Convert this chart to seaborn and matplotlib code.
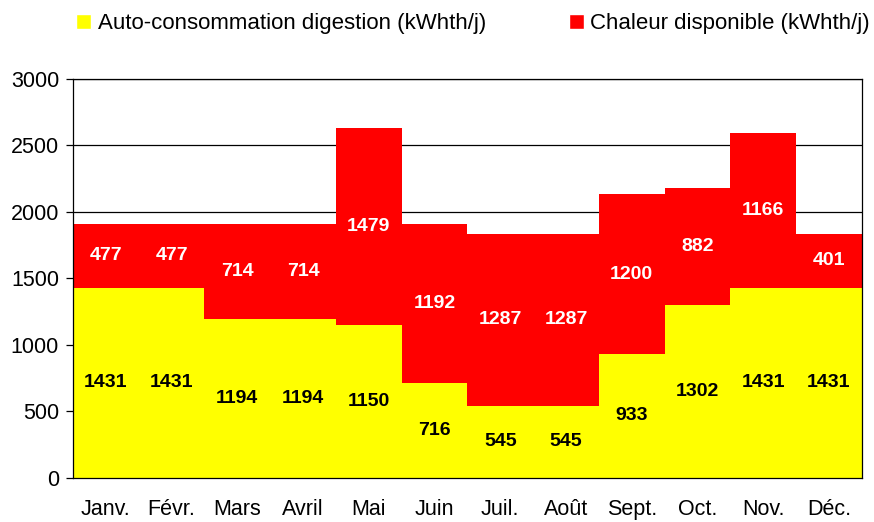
import numpy as np
import pandas as pd
import matplotlib
matplotlib.use('Agg')
import matplotlib.pyplot as plt
import seaborn as sns
from matplotlib.patches import Patch

months = ['Janv.', 'Févr.', 'Mars', 'Avril', 'Mai', 'Juin', 'Juil.', 'Août', 'Sept.', 'Oct.', 'Nov.', 'Déc.']
auto_conso = [1431, 1431, 1194, 1194, 1150, 716, 545, 545, 933, 1302, 1431, 1431]
chaleur = [477, 477, 714, 714, 1479, 1192, 1287, 1287, 1200, 882, 1166, 401]
yticks = [0, 500, 1000, 1500, 2000, 2500, 3000]

sns.set_theme(style='white')
plt.rcParams['font.family'] = ['Liberation Sans', 'DejaVu Sans']
plt.rcParams['text.color'] = 'black'
plt.rcParams['xtick.color'] = 'black'
plt.rcParams['ytick.color'] = 'black'

df = pd.DataFrame({'mois': months, 'auto': auto_conso, 'chaleur': chaleur})
df['total'] = df['auto'] + df['chaleur']

fig = plt.figure(figsize=(8.74, 5.22), dpi=100)
ax = fig.add_axes([0.0835, 0.0843, 0.9025, 0.7644])

sns.barplot(data=df, x='mois', y='total', color='#ff0000', width=1, saturation=1,
            linewidth=0, ax=ax)
sns.barplot(data=df, x='mois', y='auto', color='#ffff00', width=1, saturation=1,
            linewidth=0, ax=ax)

for i, row in df.iterrows():
    ax.text(i, row['auto'] / 2, str(row['auto']), ha='center', va='center',
            fontsize=14, fontweight='bold', color='black')
    ax.text(i, row['auto'] + row['chaleur'] / 2, str(row['chaleur']), ha='center',
            va='center', fontsize=14, fontweight='bold', color='white')

ax.set_ylim(0, 3000)
ax.set_xlim(-0.5, 11.5)
ax.set_yticks(yticks)
ax.set_yticklabels([str(v) for v in yticks], fontsize=15.5)
ax.yaxis.grid(True, color='black', linewidth=0.9)
ax.set_axisbelow(True)
ax.set_xlabel('')
ax.set_ylabel('')

ax.set_xticks(range(len(months)))
ax.set_xticklabels(months, fontsize=15.5)
ax.set_xticks(np.arange(-0.5, 12, 1), minor=True)
ax.tick_params(axis='x', which='major', length=0, pad=15)
ax.tick_params(axis='x', which='minor', length=5, width=0.9, color='black', direction='out')
ax.tick_params(axis='y', length=5, width=0.9, color='black', direction='out', left=True, pad=5)

for s in ['left', 'bottom', 'right', 'top']:
    ax.spines[s].set_color('black')
    ax.spines[s].set_linewidth(0.9)

handles = [Patch(facecolor='#ffff00', label='Auto-consommation digestion (kWhth/j)'),
           Patch(facecolor='#ff0000', label='Chaleur disponible (kWhth/j)')]
fig.legend(handles=handles, loc='upper left', bbox_to_anchor=(0.072, 1.0), ncol=2,
           frameon=False, fontsize=16, handlelength=0.68, handleheight=0.68,
           handletextpad=0.3, columnspacing=3.7, borderaxespad=0.2)

fig.savefig('out.png', dpi=100)
